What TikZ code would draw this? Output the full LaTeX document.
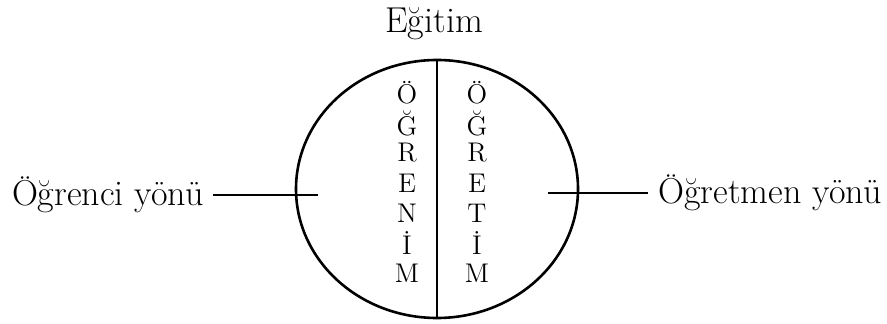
\documentclass[tikz,border=0pt]{standalone}
\usepackage{tikz}
\usetikzlibrary{shapes.geometric,positioning}

\begin{document}
\begin{tikzpicture}[
    x=0.5pt, y=-0.5pt,
    label/.style={
        inner sep=0pt,
        font=\fontsize{18}{21}\selectfont
    },
    letter/.style={
        inner sep=0pt,
        font=\fontsize{13.5}{16}\selectfont
    },
    outline/.style={
        draw,
        line width=1.3pt
    }
]
\useasboundingbox (0,0) rectangle (887,324);

% Nodes
\node [label] (egitim) at (434,24) {Eğitim};
\node [outline, ellipse, inner sep=0pt, minimum width=141pt, minimum height=129pt] (whole) at (437,189) {};

\node [label, anchor=east] (ogrenci) at (204,195) {Öğrenci yönü};
\node [label, anchor=west] (ogretmen) at (658,193) {Öğretmen yönü};

\coordinate (ogrin) at (318,192);
\coordinate (ogrtin) at (548,190);

% letters down each half
\foreach \ch [count=\i] in {Ö,Ğ,R,E,N,İ,M}
    \node [letter] (ogrenim\i) at (407,63+30*\i) {\ch};
\foreach \ch [count=\i] in {Ö,Ğ,R,E,T,İ,M}
    \node [letter] (ogretim\i) at (477,63+30*\i) {\ch};

% Paths
\draw [line width=1.3pt] (whole.north) -- (whole.south);
\draw [line width=1.2pt] (ogrenci.east -| 213,0) -- (ogrenci.east -| ogrin);
\draw [line width=1.2pt] (ogretmen.west -| ogrtin) -- (ogretmen.west -| 648,0);

\end{tikzpicture}
\end{document}
